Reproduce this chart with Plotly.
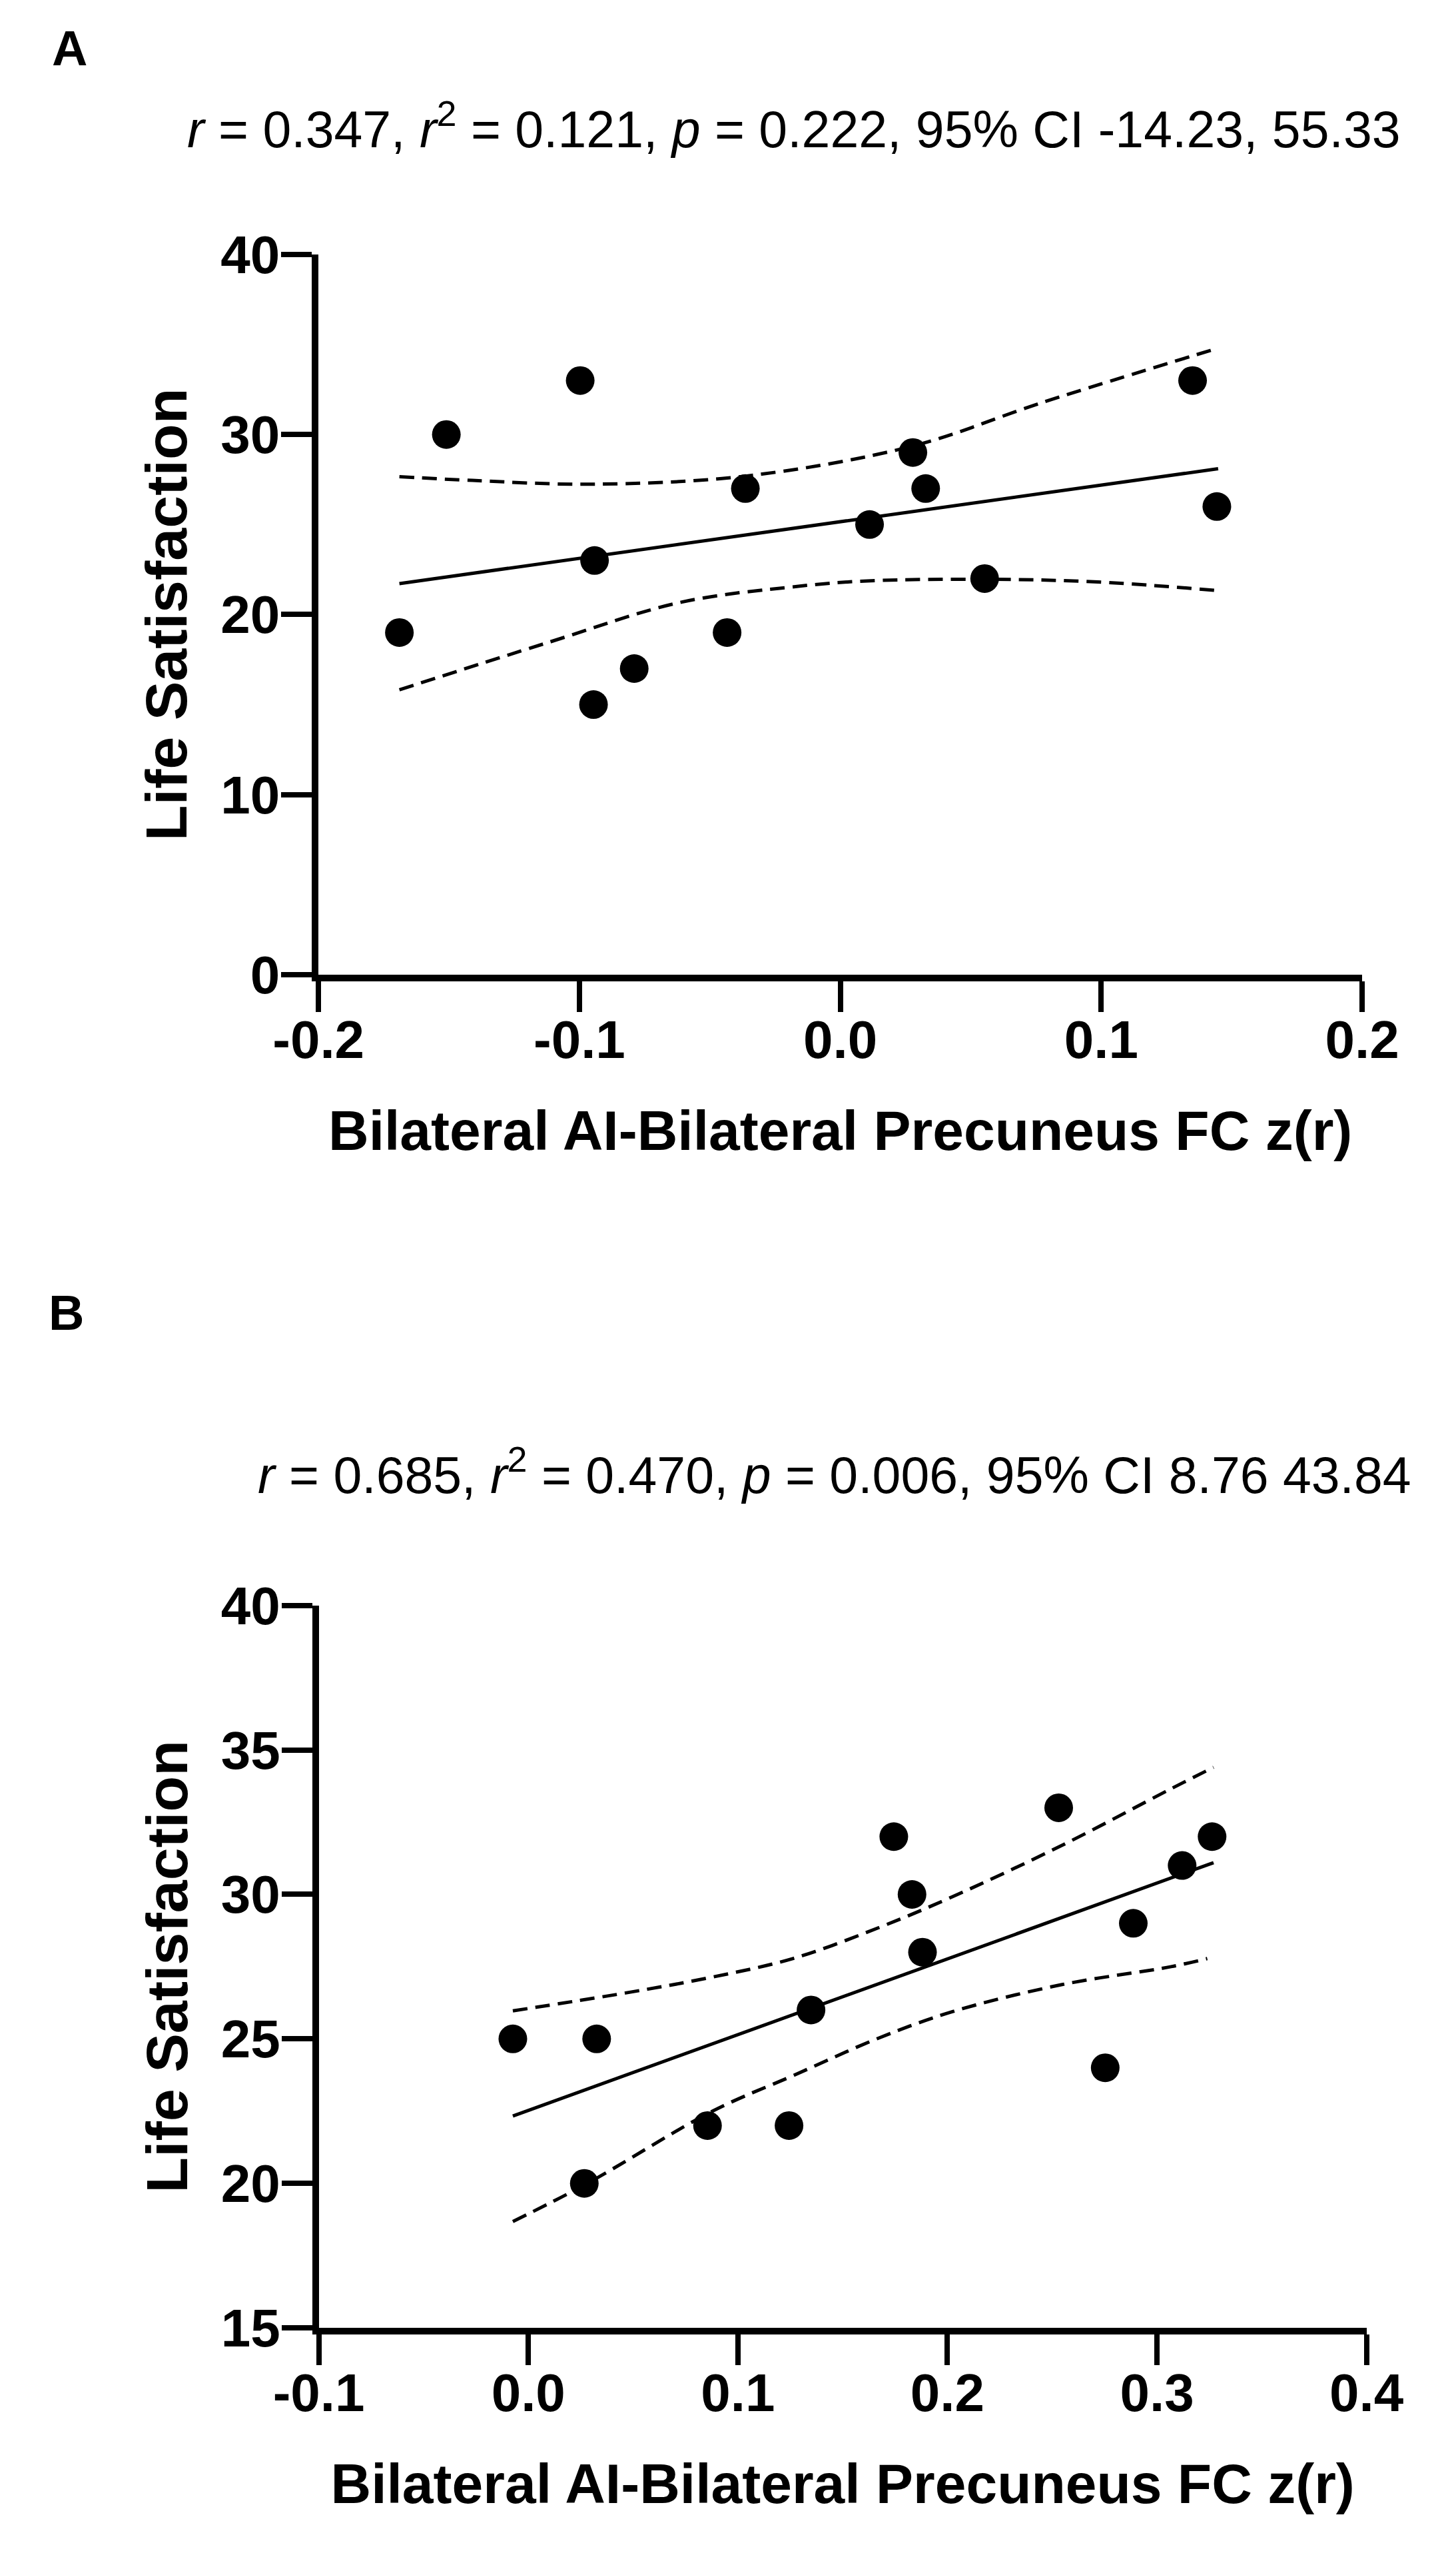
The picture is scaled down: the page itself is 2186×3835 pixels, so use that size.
import plotly.graph_objects as go

# ---------------- Panel A data ----------------
a_x = [-0.169, -0.151, -0.0997, -0.0942, -0.0946, -0.079, -0.0434, -0.0364,
       0.0112, 0.0278, 0.0327, 0.0553, 0.135, 0.1443]
a_y = [19, 30, 33, 23, 15, 17, 19, 27, 25, 29, 27, 22, 33, 26]
a_fit_x = [-0.169, 0.1448]
a_fit_y = [21.72, 28.1]
a_up_x = [-0.169, -0.141, -0.0954, -0.0364, 0.0278, 0.077, 0.1448]
a_up_y = [27.66, 27.45, 27.24, 27.69, 29.36, 31.76, 34.8]
a_lo_x = [-0.169, -0.1124, -0.0615, -0.0161, 0.0103, 0.0553, 0.0987, 0.1448]
a_lo_y = [15.82, 18.43, 20.67, 21.57, 21.87, 21.96, 21.81, 21.33]
a_xticks = [-0.2, -0.1, 0.0, 0.1, 0.2]
a_xticktext = ["-0.2", "-0.1", "0.0", "0.1", "0.2"]
a_yticks = [0, 10, 20, 30, 40]
a_yticktext = ["0", "10", "20", "30", "40"]
a_stats = "<i>r</i> = 0.347, <i>r</i><sup>2</sup> = 0.121, <i>p</i> = 0.222, 95% CI -14.23, 55.33"

# ---------------- Panel B data ----------------
b_x = [-0.0074, 0.0326, 0.0267, 0.0855, 0.1244, 0.1349, 0.1744, 0.1831, 0.1881,
       0.2531, 0.2753, 0.2887, 0.312, 0.3263]
b_y = [25, 25, 20, 22, 22, 26, 32, 30, 28, 33, 24, 29, 31, 32]
b_fit_x = [-0.0074, 0.327]
b_fit_y = [22.33, 31.1]
b_up_x = [-0.0074, 0.0464, 0.0865, 0.1267, 0.1669, 0.2027, 0.2547, 0.3068, 0.327]
b_up_y = [25.97, 26.59, 27.12, 27.79, 28.84, 29.93, 31.70, 33.66, 34.40]
b_lo_x = [-0.0074, 0.0267, 0.0879, 0.1267, 0.1669, 0.2027, 0.2547, 0.3068, 0.324]
b_lo_y = [18.68, 19.94, 22.50, 23.74, 25.02, 25.95, 26.88, 27.5, 27.78]
b_xticks = [-0.1, 0.0, 0.1, 0.2, 0.3, 0.4]
b_xticktext = ["-0.1", "0.0", "0.1", "0.2", "0.3", "0.4"]
b_yticks = [15, 20, 25, 30, 35, 40]
b_yticktext = ["15", "20", "25", "30", "35", "40"]
b_stats = "<i>r</i> = 0.685, <i>r</i><sup>2</sup> = 0.470, <i>p</i> = 0.006, 95% CI 8.76 43.84"

x_title = "Bilateral AI-Bilateral Precuneus FC z(r)"
y_title = "Life Satisfaction"

W, H = 2186, 3835
FONT = "Arial, 'Liberation Sans', sans-serif"
DASH = "22px,12px"

fig = go.Figure()


def add_panel(xs, ys, fx, fy, ux, uy, lx, ly, xa, ya):
    fig.add_trace(go.Scatter(x=ux, y=uy, mode="lines", xaxis=xa, yaxis=ya,
                             line=dict(color="black", width=5, dash=DASH, shape="spline"),
                             showlegend=False, hoverinfo="skip"))
    fig.add_trace(go.Scatter(x=lx, y=ly, mode="lines", xaxis=xa, yaxis=ya,
                             line=dict(color="black", width=5, dash=DASH, shape="spline"),
                             showlegend=False, hoverinfo="skip"))
    fig.add_trace(go.Scatter(x=fx, y=fy, mode="lines", xaxis=xa, yaxis=ya,
                             line=dict(color="black", width=5),
                             showlegend=False, hoverinfo="skip"))
    fig.add_trace(go.Scatter(x=xs, y=ys, mode="markers", xaxis=xa, yaxis=ya,
                             marker=dict(color="black", size=43, line=dict(width=0)),
                             showlegend=False, cliponaxis=False))


add_panel(a_x, a_y, a_fit_x, a_fit_y, a_up_x, a_up_y, a_lo_x, a_lo_y, "x", "y")
add_panel(b_x, b_y, b_fit_x, b_fit_y, b_up_x, b_up_y, b_lo_x, b_lo_y, "x2", "y2")

axis_common = dict(showline=True, linecolor="black", linewidth=10, showgrid=False,
                   zeroline=False, ticks="outside", ticklen=46, tickwidth=8,
                   tickcolor="black", fixedrange=True,
                   tickfont=dict(family=FONT, size=80, color="black", weight="bold"))
xtitle_font = dict(family=FONT, size=84, color="black", weight="bold")
ytitle_font = dict(family=FONT, size=88, color="black", weight="bold")
x_extra = dict(ticklabelstandoff=-27, title_standoff=67)
y_extra = dict(ticklabelstandoff=-14, title_standoff=25)

fig.update_layout(
    width=W, height=H,
    margin=dict(l=0, r=0, t=0, b=0),
    paper_bgcolor="white", plot_bgcolor="white",
    xaxis=dict(domain=[434 / W, 2096 / W], range=[-0.2, 0.2], anchor="y",
               tickvals=a_xticks, ticktext=a_xticktext,
               title=dict(text=x_title, font=xtitle_font), **axis_common),
    yaxis=dict(domain=[1 - 1452.6 / H, 1 - 346 / H], range=[0, 40], anchor="x",
               tickvals=a_yticks, ticktext=a_yticktext,
               title=dict(text=y_title, font=ytitle_font), **axis_common),
    xaxis2=dict(domain=[434.5 / W, 2102.9 / W], range=[-0.1, 0.4], anchor="y2",
                tickvals=b_xticks, ticktext=b_xticktext,
                title=dict(text=x_title, font=xtitle_font), **axis_common),
    yaxis2=dict(domain=[1 - 3532 / H, 1 - 2422 / H], range=[15, 40], anchor="x2",
                tickvals=b_yticks, ticktext=b_yticktext,
                title=dict(text=y_title, font=ytitle_font), **axis_common),
)
fig.update_xaxes(**x_extra)
fig.update_yaxes(**y_extra)

annos = [
    dict(text="<b>A</b>", x=7 / W, y=1 - 29.5 / H, xanchor="left", yanchor="middle",
         font=dict(family=FONT, size=74, color="black")),
    dict(text="<b>B</b>", x=2 / W, y=1 - 1972 / H, xanchor="left", yanchor="middle",
         font=dict(family=FONT, size=74, color="black")),
    dict(text=a_stats, x=223 / W, y=1 - 147.5 / H, xanchor="left", yanchor="middle",
         font=dict(family=FONT, size=77, color="black")),
    dict(text=b_stats, x=335 / W, y=1 - 2215.5 / H, xanchor="left", yanchor="middle",
         font=dict(family=FONT, size=77, color="black")),
]
for a in annos:
    fig.add_annotation(xref="paper", yref="paper", showarrow=False, **a)

fig.write_html("out.html", config={"displayModeBar": False},
               post_script="document.body.style.margin='0';document.body.style.overflow='hidden';")
